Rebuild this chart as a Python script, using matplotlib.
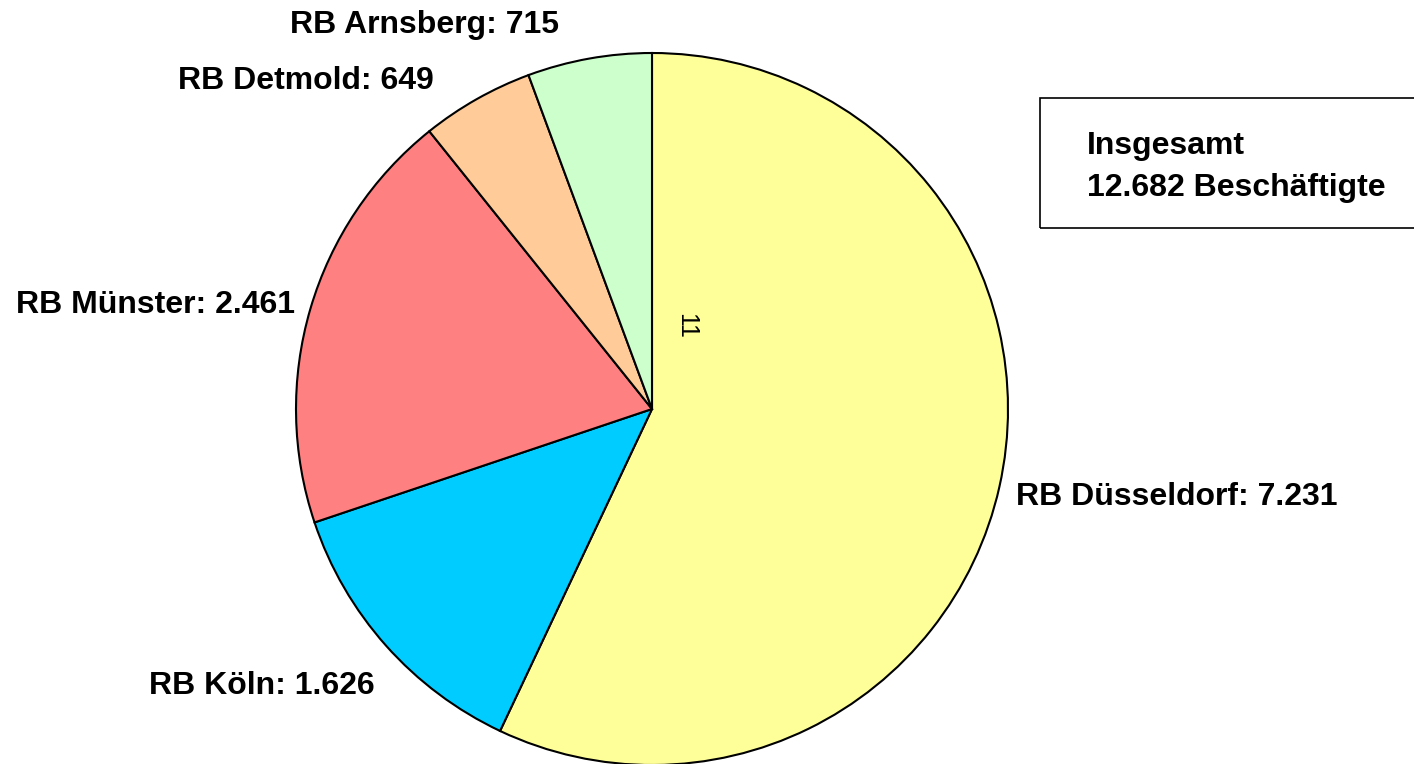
import matplotlib.pyplot as plt
from matplotlib import font_manager as fm
from matplotlib.patches import Rectangle

plt.rcParams['font.family'] = ['Liberation Sans', 'DejaVu Sans']

regions = ["RB Düsseldorf", "RB Köln", "RB Münster", "RB Detmold", "RB Arnsberg"]
values = [7231, 1626, 2461, 649, 715]
value_labels = ["7.231", "1.626", "2.461", "649", "715"]
colors = ["#FFFF99", "#00CCFF", "#FF8080", "#FFCC99", "#CCFFCC"]
total_label = "12.682"

bold = fm.FontProperties(family=['Liberation Sans', 'DejaVu Sans'], weight='bold', size=23)

fig = plt.figure(figsize=(14.14, 7.64), dpi=100)
ax = fig.add_axes([0, 0, 1, 1])

ax.pie(values, colors=colors, startangle=90, counterclock=False,
       center=(652, 355), radius=356, frame=True,
       wedgeprops=dict(edgecolor='black', linewidth=1.5))
ax.set_xlim(0, 1414); ax.set_ylim(0, 764)
ax.set_aspect('equal'); ax.axis('off')

# label positions (pixel layout, y measured from bottom)
pos = [(1177, 267), (262, 78), (155, 459), (306, 683), (425, 739)]
for name, v, (x, y) in zip(regions, value_labels, pos):
    ax.text(x, y, f"{name}: {v}", ha='center', va='center', fontproperties=bold)

ax.text(686, 438, "11", rotation=270, ha='center', va='center', fontsize=18)

ax.add_patch(Rectangle((1040, 536), 400, 130, fill=False, edgecolor='black', linewidth=1.2))
ax.text(1087, 618, "Insgesamt", ha='left', va='center', fontproperties=bold)
ax.text(1087, 576, f"{total_label} Beschäftigte", ha='left', va='center', fontproperties=bold)

fig.savefig("out.png", dpi=100)
